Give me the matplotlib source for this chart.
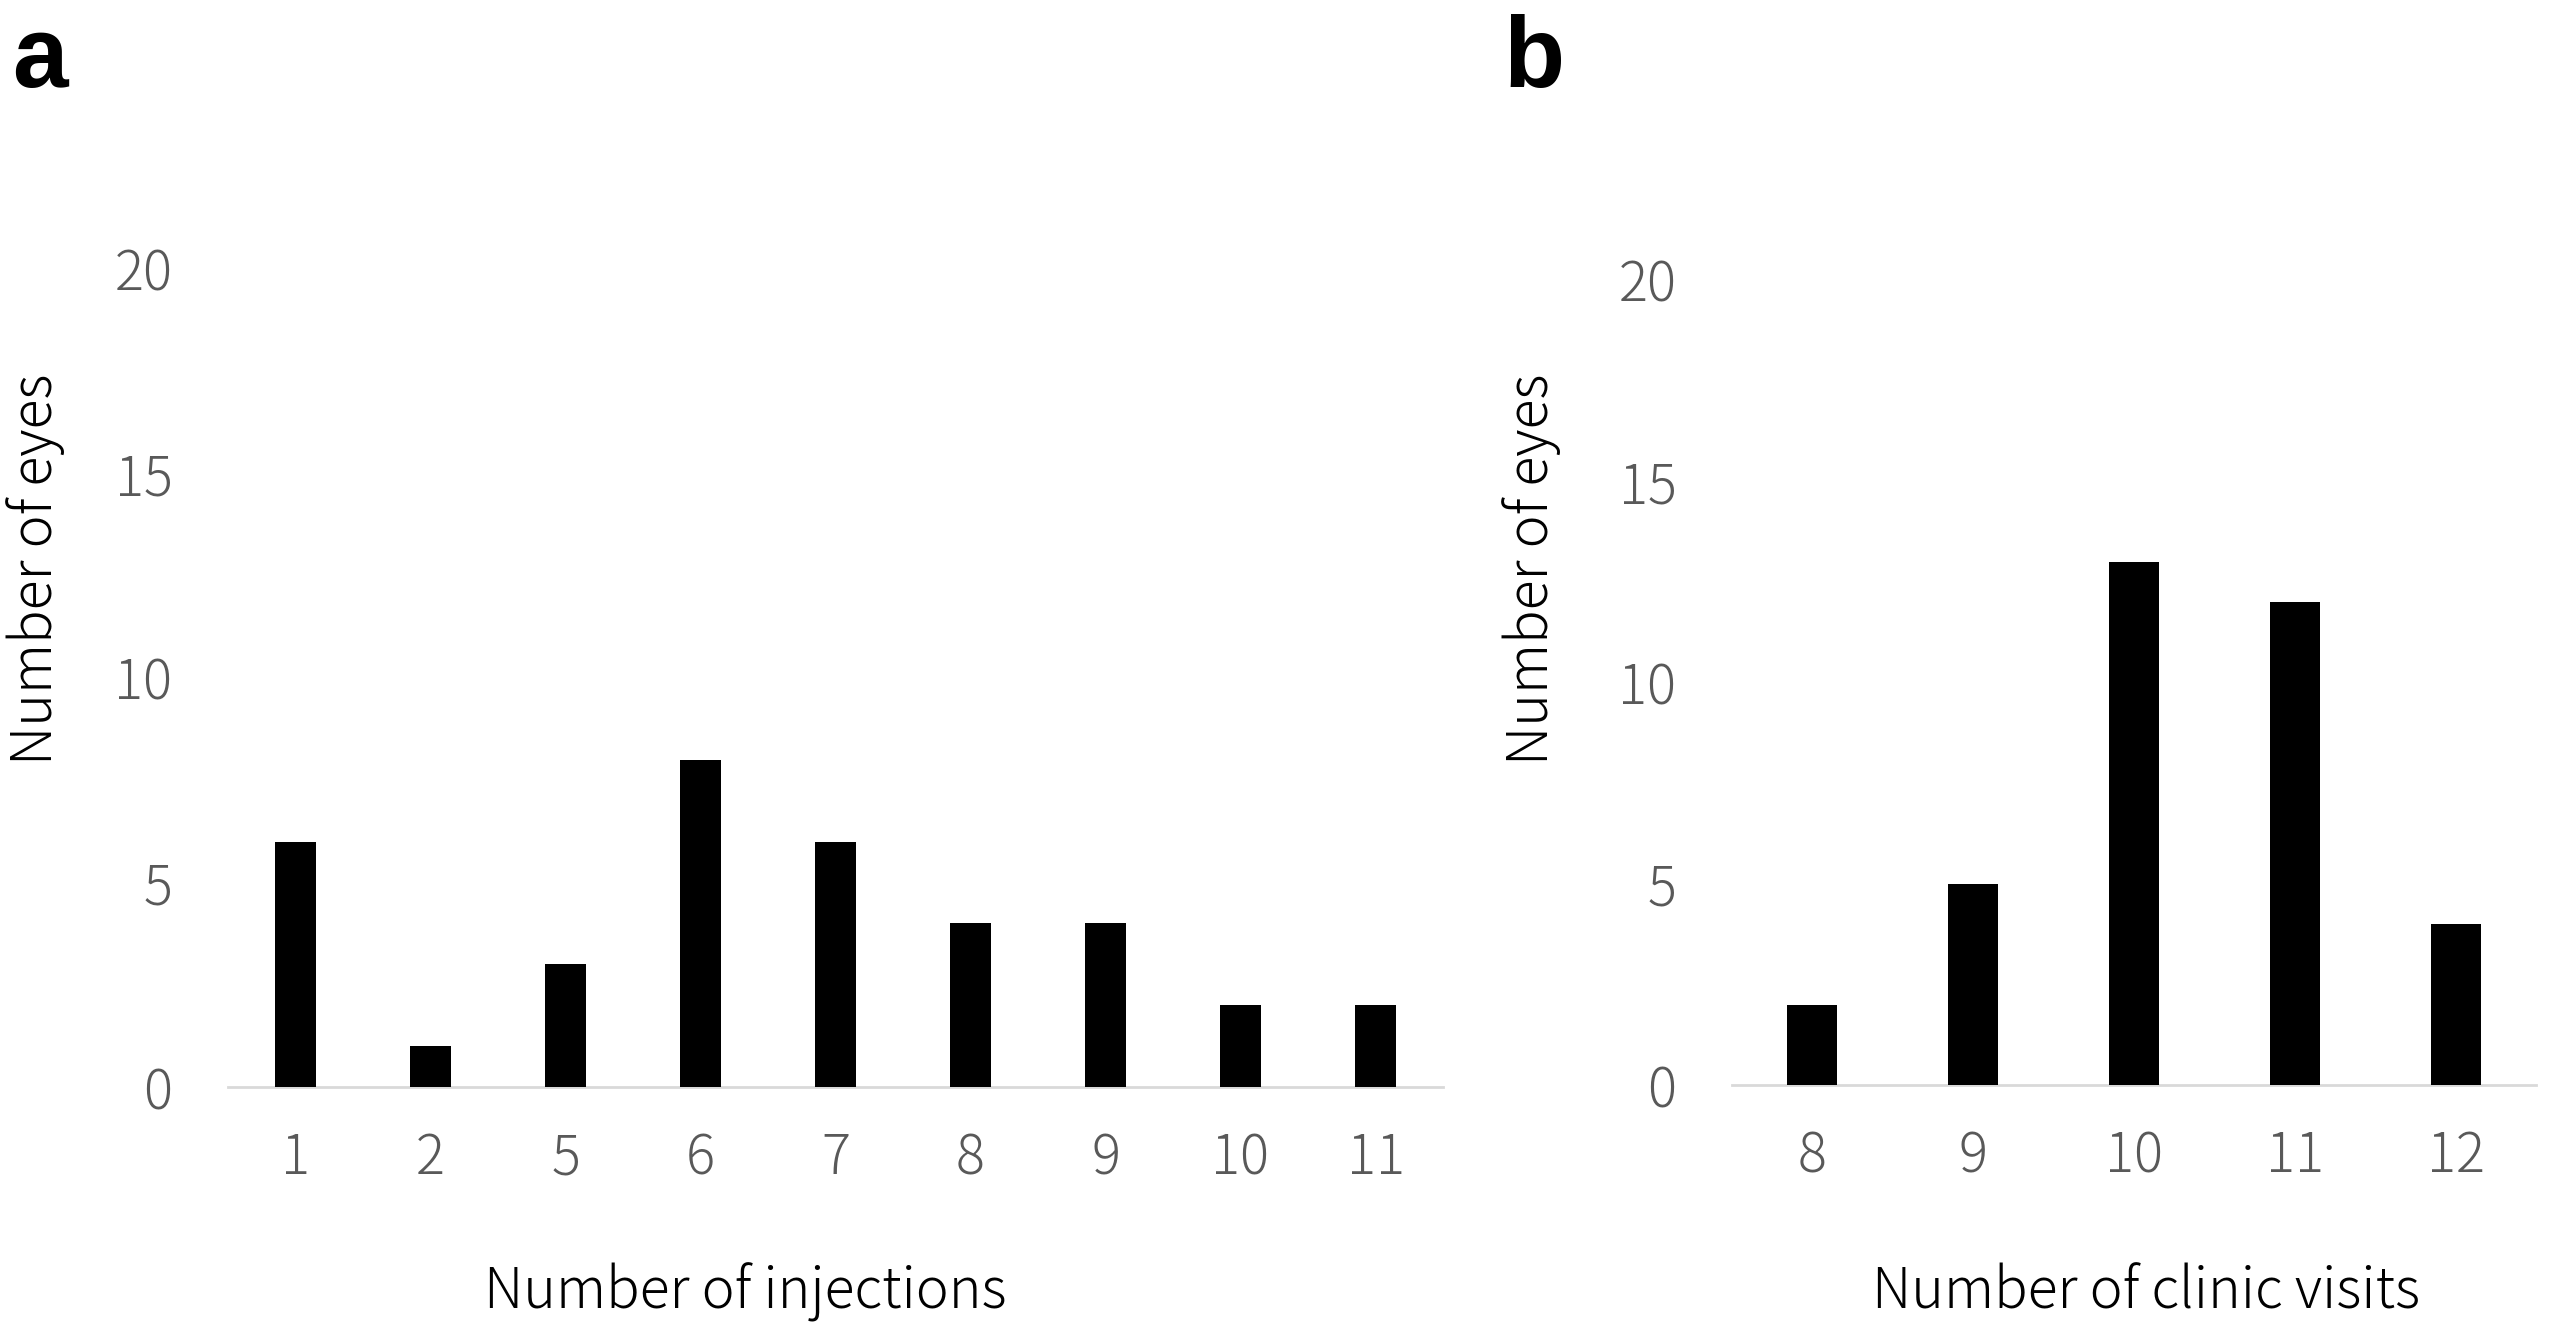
import matplotlib
matplotlib.use("Agg")
import matplotlib.pyplot as plt
import numpy as np

plt.rcParams['font.family'] = ['Noto Sans CJK JP', 'DejaVu Sans']

# Data
inj_categories = ["1", "2", "5", "6", "7", "8", "9", "10", "11"]
inj_counts = [6, 1, 3, 8, 6, 4, 4, 2, 2]
visit_categories = ["8", "9", "10", "11", "12"]
visit_counts = [2, 5, 13, 12, 4]
y_ticks = [0, 5, 10, 15, 20]

W, H = 2553, 1327
fig = plt.figure(figsize=(W / 100, H / 100), dpi=100)

def px_axes(left, right, bottom, top):
    return fig.add_axes([left / W, 1 - bottom / H, (right - left) / W, (bottom - top) / H])

tick_color = '#595959'
tick_fs = 39
label_fs = 40

def style(ax, cats, vals):
    x = np.arange(len(cats))
    ax.bar(x, vals, width=0.31, color='black', zorder=3)
    ax.set_xlim(-0.5, len(cats) - 0.5)
    ax.set_ylim(0, 20)
    ax.set_xticks(x)
    ax.set_xticklabels(cats)
    ax.set_yticks(y_ticks)
    for s in ['top', 'right', 'left']:
        ax.spines[s].set_visible(False)
    ax.spines['bottom'].set_color('#d9d9d9')
    ax.spines['bottom'].set_linewidth(2)
    ax.tick_params(axis='both', length=0, labelsize=tick_fs, labelcolor=tick_color)
    ax.tick_params(axis='x', pad=31)
    ax.tick_params(axis='y', pad=40)
    for lab in ax.get_xticklabels() + ax.get_yticklabels():
        lab.set_fontweight('light')
    ax.set_facecolor('none')

ax1 = px_axes(228, 1443, 1087, 269)
style(ax1, inj_categories, inj_counts)
ax2 = px_axes(1732, 2536, 1085, 280)
style(ax2, visit_categories, visit_counts)

fig.text(745 / W, 1 - 1292 / H, "Number of injections", fontsize=label_fs,
         fontweight='light', ha='center', va='center', color='black')
fig.text(2146 / W, 1 - 1292 / H, "Number of clinic visits", fontsize=label_fs,
         fontweight='light', ha='center', va='center', color='black')
fig.text(36 / W, 1 - 569 / H, "Number of eyes", fontsize=label_fs, rotation=90,
         fontweight='light', ha='center', va='center', color='black')
fig.text(1532 / W, 1 - 569 / H, "Number of eyes", fontsize=label_fs, rotation=90,
         fontweight='light', ha='center', va='center', color='black')

fig.text(12 / W, 1 - 87 / H, "a", fontsize=72, fontweight='bold',
         family=['Liberation Sans'], ha='left', va='baseline')
fig.text(1503 / W, 1 - 87 / H, "b", fontsize=72, fontweight='bold',
         family=['Liberation Sans'], ha='left', va='baseline')

fig.savefig("out.png", dpi=100, facecolor='white')
